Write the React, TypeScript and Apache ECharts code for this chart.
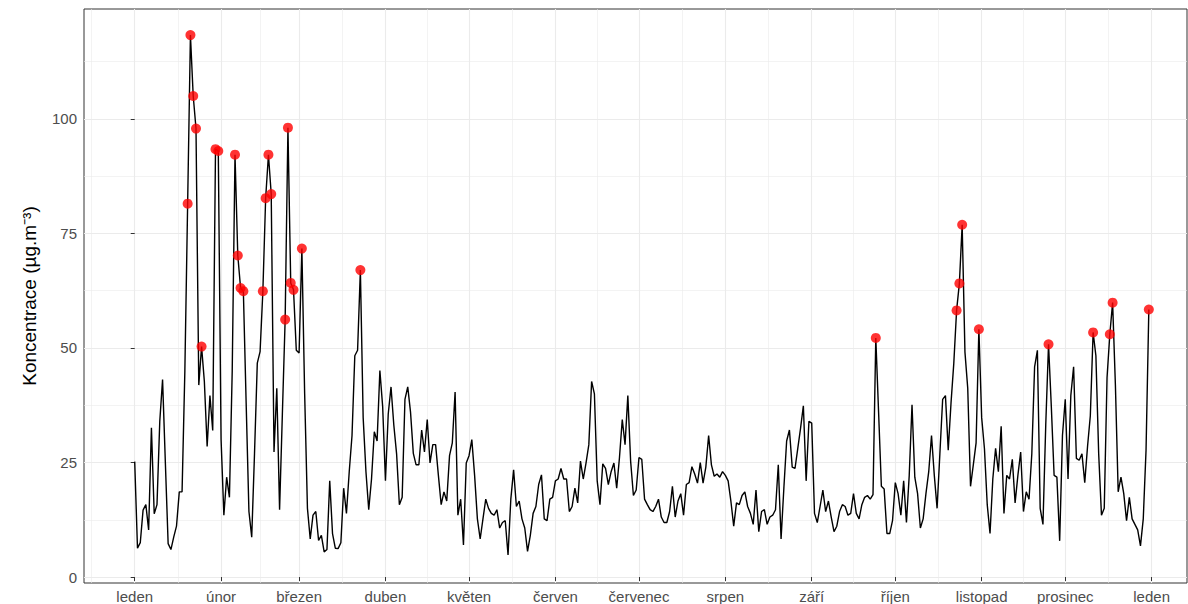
import React, { useEffect, useRef } from "react";
import * as echarts from "echarts";

// Month tick labels (Czech) and day-of-year positions of month starts (non-leap year)
const MONTH_LABELS = ["leden", "únor", "březen", "duben", "květen", "červen", "červenec", "srpen", "září", "říjen", "listopad", "prosinec", "leden"];
const MONTH_START_DAYS = [0, 31, 59, 90, 120, 151, 181, 212, 243, 273, 304, 334, 365];
const PREV_MONTH_START = -31;
const NEXT_MONTH_AFTER = 396;

const Y_TICKS = [0, 25, 50, 75, 100];
const Y_MINOR = [12.5, 37.5, 62.5, 87.5, 112.5];

const LIMIT = 50; // daily limit, values above are highlighted

// Daily concentrations, day 0 = 1 January
const PM10 = [
  25.2, 6.3, 7.5, 14.6, 15.8, 10.3, 32.6, 13.8, 15.8, 34, 43.1, 25, 7.3, 6, 8.7, 11.1, 18.6, 18.6, 45, 81.5,
  118.3, 105, 97.9, 41.9, 50.3, 42.7, 28.5, 39.6, 32, 93.4, 93, 30, 13.5, 21.8, 17.4, 45, 92.2, 70.2, 63.1, 62.4,
  38, 14.3, 8.7, 26.9, 46.7, 49.2, 62.4, 82.7, 92.2, 83.6, 27.3, 41.2, 14.7, 35.6, 56.2, 98.1, 64.2, 62.7, 49.5, 48.9,
  71.7, 40, 15, 8.3, 13.5, 14.3, 8, 9.1, 5.5, 6.0, 21.0, 9.5, 6.3, 6.2, 7.5, 19.4, 13.9, 23, 30.9, 48.3,
  49.5, 67, 34.8, 23, 14.7, 21.4, 31.7, 29.7, 45.1, 37.2, 21.0, 35.6, 41.5, 33.2, 26.9, 15.8, 17.4, 38.8, 41.5, 36,
  27, 24.5, 24.5, 32.1, 27.3, 34.4, 24.9, 28.9, 28.9, 22.2, 15.8, 18.6, 16.6, 26.5, 29.3, 40.4, 13.5, 17, 7, 24.9,
  26.5, 30, 22.2, 12.7, 8.3, 12.7, 17, 15, 13.9, 13.5, 14.7, 10.7, 11.9, 12.3, 4.8, 17, 23.4, 15.4, 16.6, 12.7,
  10.7, 5.6, 9.1, 13.9, 15.4, 20.2, 22.3, 12.7, 12.3, 17, 17.4, 21, 21.4, 23.7, 21.4, 21.4, 14.3, 15.4, 19.4, 16.2,
  25.3, 21.4, 24.9, 28.9, 42.7, 40, 21, 15.8, 24.7, 23.7, 20.2, 23, 24.9, 19.4, 26.1, 34.4, 28.9, 39.6, 25.3, 17.8,
  19, 26.1, 25.7, 17, 15.8, 14.7, 14.3, 15.4, 17, 13.1, 11.9, 11.9, 14.3, 19.8, 13.1, 16.6, 18.2, 13.5, 20.2, 20.6,
  24.1, 22.5, 20.5, 25, 20.5, 24, 30.9, 24.5, 22, 22.5, 21.8, 23, 22.2, 21, 16.5, 11.1, 16.2, 15.8, 17.8, 18.6,
  15.4, 13.9, 11.5, 19, 9.9, 14.3, 14.7, 11.5, 13.1, 13.5, 14.7, 24.5, 8.3, 19.4, 29.7, 32.1, 24, 23.7, 28.1, 32.5,
  37.4, 21, 34, 33.6, 13.9, 11.9, 15.4, 19, 14.3, 16.6, 13.1, 9.9, 11.1, 14.3, 15.8, 15.4, 13.5, 13.9, 18.2, 13.9,
  12.7, 15.8, 17.4, 17.8, 17, 18, 52.2, 36, 19.8, 19.2, 9.5, 9.5, 12.3, 20.6, 18.2, 13.5, 21, 11.9, 22.2, 37.6,
  21.8, 18.2, 10.7, 12.7, 18.2, 23, 30.9, 22.2, 15, 26.9, 38.8, 39.6, 27.7, 38, 46.7, 58.2, 64.1, 76.9, 49.1, 41.2,
  19.8, 24.5, 29.3, 54.1, 34.8, 28, 15.8, 9.5, 21.4, 28.1, 23, 32.9, 13.9, 22.2, 21.4, 25.7, 16.2, 22.2, 27.3, 14.3,
  18.6, 17, 26.9, 45.9, 49.5, 15, 11.5, 33.2, 50.8, 37.2, 22.2, 21.8, 7.9, 30.9, 38.8, 21.4, 39.6, 45.9, 25.9, 25.5,
  26.9, 20.6, 28.5, 35.2, 53.4, 48.3, 26.9, 13.5, 15, 43.5, 53, 59.9, 41.9, 18.6, 21.8, 18.2, 12.3, 17.4, 12.7, 11.5,
  10.3, 6.8, 12.7, 27.7, 58.4,
];

const X_MIN = -18.2;
const X_MAX = 377.7;
const Y_MIN = -1.3;
const Y_MAX = 124;

export default function App() {
  const ref = useRef<HTMLDivElement>(null);

  useEffect(() => {
    if (!ref.current) return;
    const chart = echarts.init(ref.current, undefined, { renderer: "svg" });

    const lineData = PM10.map((v, i) => [i, v]);
    const overData = PM10.map((v, i) => [i, v]).filter((p) => p[1] > LIMIT);
    const bounds = [PREV_MONTH_START, ...MONTH_START_DAYS, NEXT_MONTH_AFTER];
    const xMinor: number[] = [];
    for (let i = 0; i < bounds.length - 1; i++) {
      const m = (bounds[i] + bounds[i + 1]) / 2;
      if (m > X_MIN && m < X_MAX) xMinor.push(m);
    }
    const labelMap: Record<string, string> = {};
    MONTH_START_DAYS.forEach((d, i) => (labelMap[String(d)] = MONTH_LABELS[i]));

    const gridColor = "#ebebeb";
    const font = "Liberation Sans, Arial, sans-serif";

    chart.setOption({
      animation: false,
      backgroundColor: "#ffffff",
      grid: {
        left: 84,
        right: 1,
        top: 9,
        bottom: 21,
        show: true,
        borderColor: "#333333",
        borderWidth: 1,
        backgroundColor: "transparent",
        containLabel: false,
        outerBoundsMode: "none",
      },
      xAxis: [
        {
          type: "value",
          min: X_MIN,
          max: X_MAX,
          axisLine: { show: false },
          axisTick: { show: true, length: 4, customValues: MONTH_START_DAYS, lineStyle: { color: "#333333", width: 1 } },
          axisLabel: {
            show: true,
            customValues: MONTH_START_DAYS,
            formatter: (v: number) => labelMap[String(Math.round(v))] ?? "",
            color: "#4d4d4d",
            fontSize: 15,
            fontFamily: font,
            margin: 6,
          },
          splitLine: { show: true, lineStyle: { color: gridColor, width: 1.1 } },
        },
        {
          type: "value",
          min: X_MIN,
          max: X_MAX,
          position: "bottom",
          axisLine: { show: false },
          axisTick: { show: false, customValues: xMinor },
          axisLabel: { show: false, customValues: xMinor },
          splitLine: { show: true, lineStyle: { color: gridColor, width: 0.6 } },
        },
      ],
      yAxis: [
        {
          type: "value",
          min: Y_MIN,
          max: Y_MAX,
          axisLine: { show: false },
          axisTick: { show: true, length: 4, customValues: Y_TICKS, lineStyle: { color: "#333333", width: 1 } },
          axisLabel: {
            show: true,
            customValues: Y_TICKS,
            color: "#4d4d4d",
            fontSize: 15,
            fontFamily: font,
            margin: 7,
          },
          splitLine: { show: true, lineStyle: { color: gridColor, width: 1.1 } },
          name: "Koncentrace (µg.m⁻³)",
          nameLocation: "middle",
          nameGap: 45,
          nameRotate: 90,
          nameTextStyle: { color: "#000000", fontSize: 19, fontFamily: font },
        },
        {
          type: "value",
          min: Y_MIN,
          max: Y_MAX,
          position: "left",
          axisLine: { show: false },
          axisTick: { show: false, customValues: Y_MINOR },
          axisLabel: { show: false, customValues: Y_MINOR },
          splitLine: { show: true, lineStyle: { color: gridColor, width: 0.6 } },
        },
      ],
      series: [
        {
          type: "line",
          data: lineData,
          showSymbol: false,
          symbol: "none",
          lineStyle: { color: "#000000", width: 1.4 },
          z: 3,
        },
        {
          type: "scatter",
          data: overData,
          symbol: "circle",
          symbolSize: 10,
          itemStyle: { color: "#ff0000" },
          z: 4,
        },
      ],
    });

    return () => chart.dispose();
  }, []);

  return (
    <div
      ref={ref}
      style={{ position: "absolute", left: 0, top: 0, width: 1188, height: 604, background: "#ffffff" }}
    />
  );
}
